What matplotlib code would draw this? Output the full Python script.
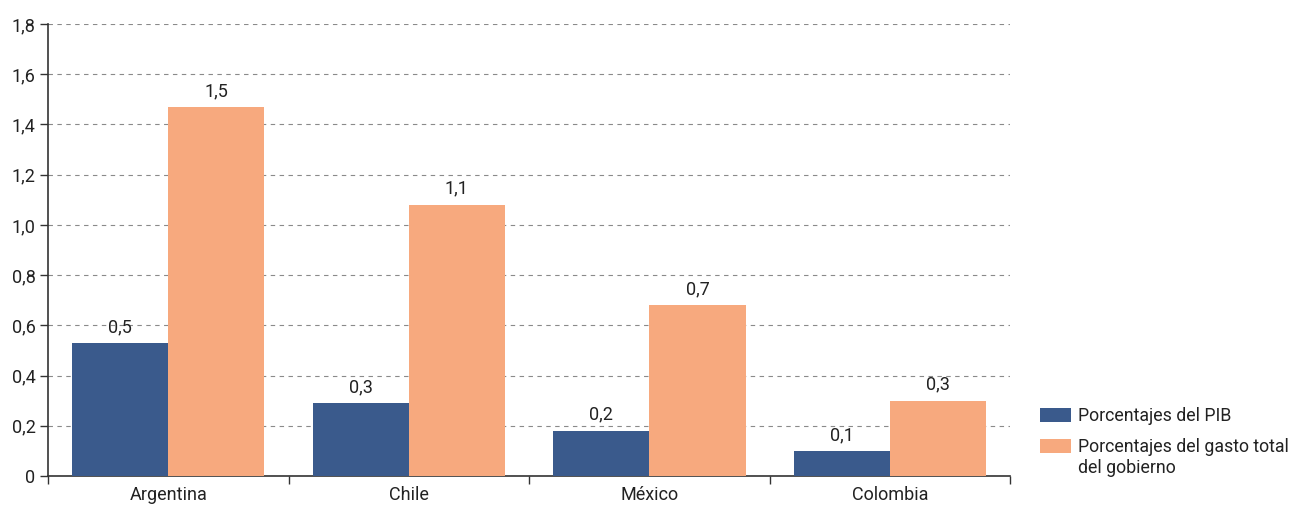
import numpy as np
import matplotlib.pyplot as plt
from matplotlib.ticker import FixedLocator, FuncFormatter
from matplotlib.patches import Rectangle
from matplotlib.legend_handler import HandlerPatch

# Datos
paises = ['Argentina', 'Chile', 'México', 'Colombia']
pib = [0.53, 0.29, 0.18, 0.10]          # porcentajes del PIB
gasto = [1.47, 1.08, 0.68, 0.30]        # porcentajes del gasto total del gobierno
serie_pib = 'Porcentajes del PIB'
serie_gasto = 'Porcentajes del gasto total\ndel gobierno'

plt.rcParams['font.family'] = ['Roboto', 'DejaVu Sans']
plt.rcParams['font.size'] = 13

azul = '#3a5a8c'
naranja = '#f7a97e'
gris = '#333333'
texto = '#222222'

fig = plt.figure(figsize=(12.91, 5.08), dpi=100)
ax = fig.add_axes([0.0372, 0.063, 0.7452, 0.8898])

x = np.arange(len(paises))
w = 0.4
b1 = ax.bar(x - w / 2, pib, w, color=azul, label=serie_pib, zorder=3)
b2 = ax.bar(x + w / 2, gasto, w, color=naranja, label=serie_gasto, zorder=3)

coma = lambda v: f'{v:.1f}'.replace('.', ',')
for barras, vals in ((b1, pib), (b2, gasto)):
    for r, v in zip(barras, vals):
        ax.annotate(coma(v), (r.get_x() + r.get_width() / 2, v),
                    xytext=(0, 5), textcoords='offset points',
                    ha='center', va='bottom', fontsize=13, color=texto)

ax.set_xlim(-0.5, len(paises) - 0.5)
ax.set_ylim(0, 1.8)
ax.set_yticks(np.arange(0, 1.81, 0.2))
ax.yaxis.set_major_formatter(FuncFormatter(lambda v, p: '0' if v == 0 else coma(v)))
ax.set_xticks(x)
ax.set_xticklabels(paises)
ax.xaxis.set_minor_locator(FixedLocator(np.arange(-0.5, len(paises), 1.0)))
ax.tick_params(axis='x', which='major', length=0, pad=7, labelsize=13, labelcolor=texto)
ax.tick_params(axis='x', which='minor', length=6, width=1, color=gris, direction='out')
ax.tick_params(axis='y', length=6, width=1, color=gris, direction='out', pad=3,
               labelsize=13, labelcolor=texto)

ax.grid(axis='y', linestyle=(0, (4, 4)), color='#8a8a8a', linewidth=0.8, zorder=0)
for s in ('top', 'right'):
    ax.spines[s].set_visible(False)
for s in ('left', 'bottom'):
    ax.spines[s].set_color(gris)
    ax.spines[s].set_linewidth(1.2)


# el recuadro de la serie con etiqueta de dos líneas se alinea con la primera línea
def recuadro_arriba(legend, orig_handle, xdescent, ydescent, width, height, fontsize):
    return Rectangle((-xdescent, -ydescent + 0.72 * fontsize), width, height)


h1, h2 = b1.patches[0], b2.patches[0]
fig.legend([h1, h2], [serie_pib, serie_gasto],
           loc='lower left', bbox_to_anchor=(0.8014, 0.05), frameon=False,
           fontsize=12.8, handlelength=1.75, handleheight=0.85,
           handletextpad=0.4, labelspacing=0.75, labelcolor=texto,
           borderaxespad=0, borderpad=0.3,
           handler_map={h2: HandlerPatch(patch_func=recuadro_arriba)})

fig.savefig('out.png', dpi=100)
